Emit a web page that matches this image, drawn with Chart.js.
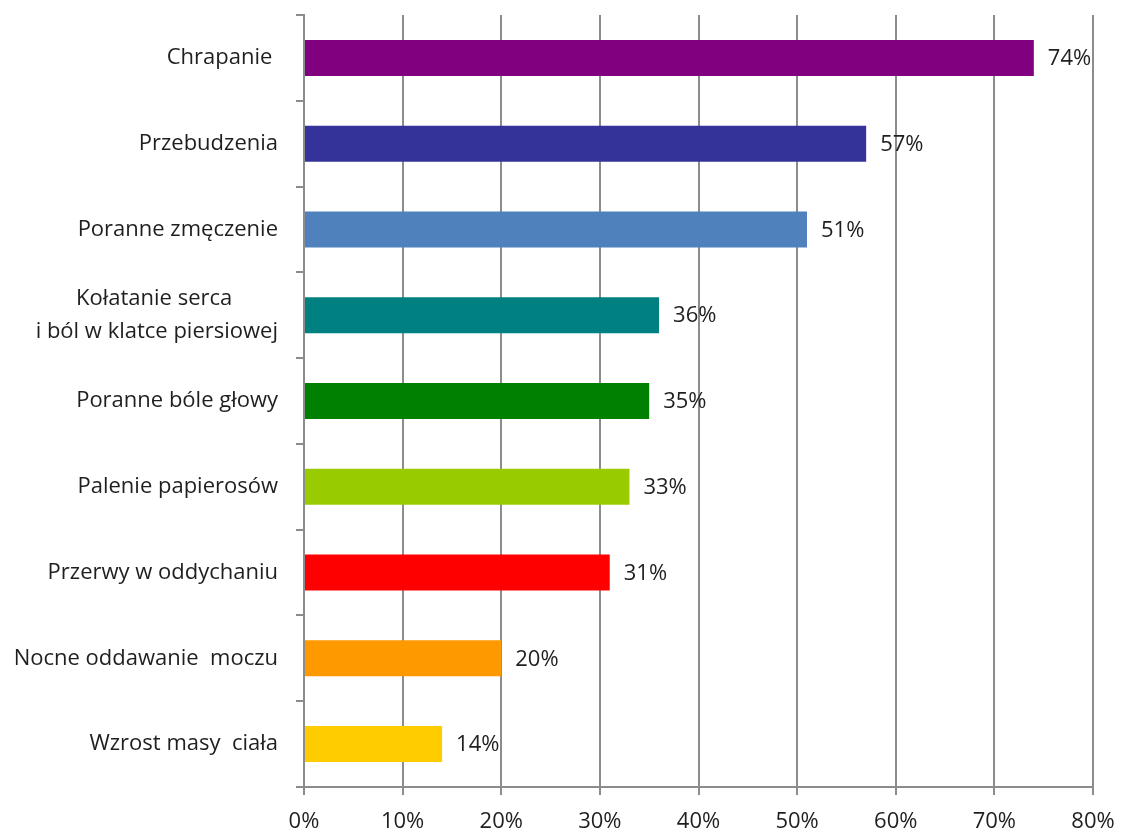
<!DOCTYPE html>
<html>
<head>
<meta charset="utf-8">
<script src="https://cdn.jsdelivr.net/npm/chart.js@4/dist/chart.umd.min.js"></script>
<style>
  html, body { margin: 0; padding: 0; background: #fff; }
</style>
</head>
<body>
<canvas id="chart" width="1121" height="832"></canvas>
<script>
// symptoms reported, in percent
const labels = [
    'Chrapanie ',
    'Przebudzenia',
    'Poranne zmęczenie',
    ['Kołatanie serca        ', 'i ból w klatce piersiowej'],
    'Poranne bóle głowy',
    'Palenie papierosów',
    'Przerwy w oddychaniu',
    'Nocne oddawanie  moczu',
    'Wzrost masy  ciała'
];
const values = [74, 57, 51, 36, 35, 33, 31, 20, 14];
const colors = ['#800080', '#333399', '#4F81BD', '#008080', '#008000', '#99CC00', '#FF0000', '#FF9900', '#FFCC00'];
const xTicks = [0, 10, 20, 30, 40, 50, 60, 70, 80];

const FONT = '"Open Sans", Lato, sans-serif';
const TEXT = '#1f1f1f';
const GRID = '#8c8c8c';

/*Percent label after the end of every bar*/
const valueLabels = {
    id: 'valueLabels',
    afterDatasetsDraw(chart) {
        const ctx = chart.ctx;
        const meta = chart.getDatasetMeta(0);
        ctx.save();
        ctx.font = '22px ' + FONT;
        ctx.fillStyle = TEXT;
        ctx.textAlign = 'left';
        ctx.textBaseline = 'middle';
        meta.data.forEach((bar, i) => {
            ctx.fillText(values[i] + '%', bar.x + 14, bar.y + 1);
        });
        ctx.restore();
    }
};

new Chart(document.getElementById('chart'), {
    type: 'bar',
    data: {
        labels: labels,
        datasets: [{
            data: values,
            backgroundColor: colors,
            categoryPercentage: 1,
            barPercentage: 0.42
        }]
    },
    options: {
        indexAxis: 'y',
        responsive: false,
        animation: false,
        layout: {
            padding: { top: 15, right: 28, left: 0, bottom: 0 }
        },
        scales: {
            x: {
                min: 0,
                max: 80,
                afterBuildTicks: (scale) => {
                    scale.ticks = xTicks.map(v => ({ value: v }));
                },
                afterFit: (scale) => {
                    scale.height = 45;
                    scale.paddingLeft = 0;
                    scale.paddingRight = 0;
                },
                grid: {
                    color: GRID,
                    lineWidth: 2,
                    tickLength: 8
                },
                border: { color: GRID, width: 2 },
                ticks: {
                    color: TEXT,
                    padding: 14,
                    font: { family: FONT, size: 22 },
                    callback: (v) => v + '%'
                }
            },
            y: {
                afterFit: (scale) => {
                    scale.width = 304;
                    scale.paddingTop = 0;
                    scale.paddingBottom = 0;
                },
                grid: {
                    drawOnChartArea: false,
                    color: GRID,
                    lineWidth: 2,
                    tickLength: 8
                },
                border: { color: GRID, width: 2 },
                ticks: {
                    color: TEXT,
                    padding: 18,
                    font: { family: FONT, size: 22, lineHeight: 1.5 }
                }
            }
        },
        plugins: {
            legend: { display: false },
            tooltip: { enabled: false }
        }
    },
    plugins: [valueLabels]
});
</script>
</body>
</html>
